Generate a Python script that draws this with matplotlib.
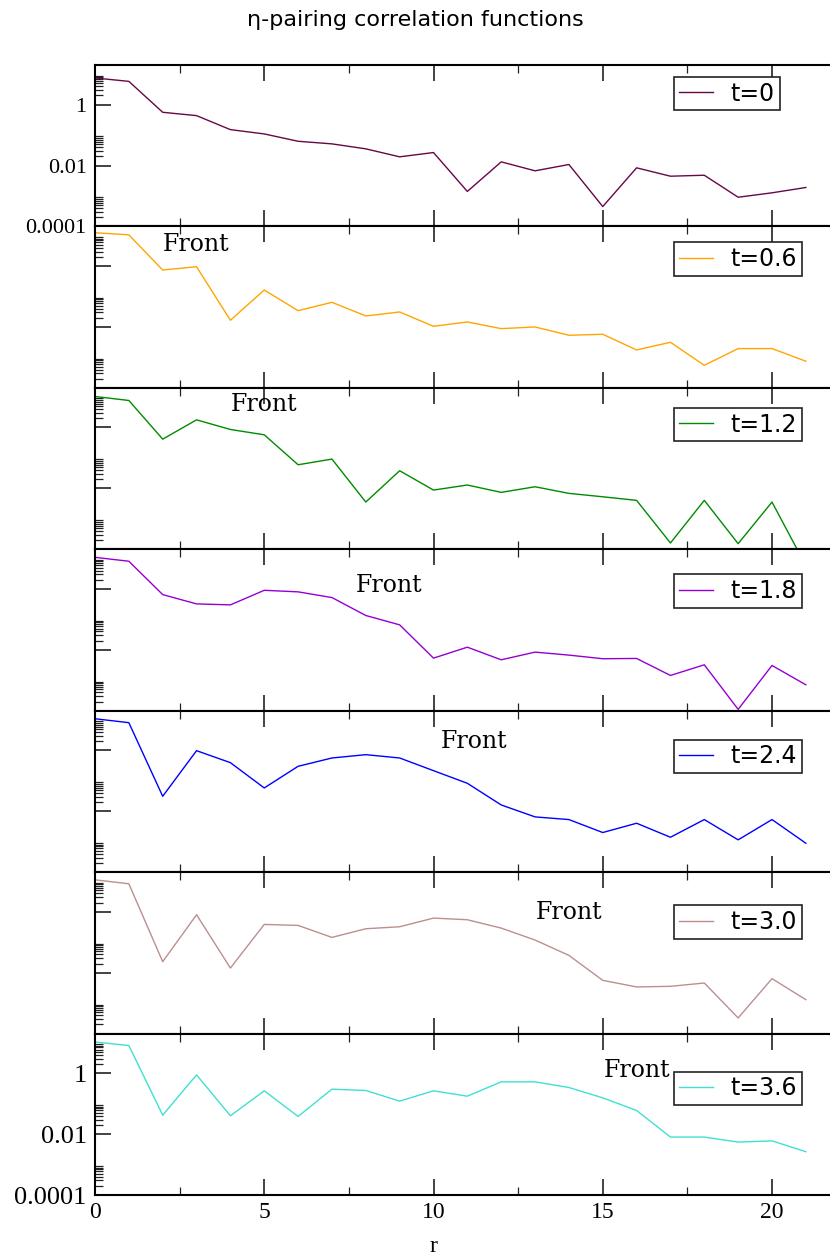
#######################################################################
# eta-pairing correlation functions C(r) for several times t
#######################################################################

import matplotlib
matplotlib.use("Agg")
import matplotlib.pyplot as plt
from matplotlib.ticker import FixedLocator, FixedFormatter, NullFormatter

#######################################################################
# Data
#######################################################################
r = list(range(22))                                   # distance r

times = ["0", "0.6", "1.2", "1.8", "2.4", "3.0", "3.6"]

corr_t00 = [7.5, 5.8, 0.56, 0.435, 0.151, 0.109, 0.0626, 0.0514, 0.0353, 0.0193, 0.0267,
            0.00141, 0.0132, 0.0067, 0.0108, 0.00045, 0.0084, 0.00446, 0.0048, 0.00091,
            0.00127, 0.0019]
corr_t06 = [12.4, 10.6, 0.74, 0.95, 0.0166, 0.163, 0.0343, 0.0644, 0.023, 0.031, 0.0105,
            0.0146, 0.0088, 0.0100, 0.00533, 0.00575, 0.00176, 0.00314, 0.00055, 0.00195,
            0.00195, 0.00075]
corr_t12 = [10.4, 7.7, 0.414, 1.78, 0.86, 0.575, 0.0597, 0.0916, 0.00356, 0.038, 0.0088,
            0.0129, 0.0074, 0.0113, 0.00686, 0.0053, 0.00404, 0.000161, 0.00404, 0.000153,
            0.00356, 0.000029]
corr_t18 = [10.9, 8.1, 0.65, 0.322, 0.299, 0.90, 0.80, 0.52, 0.134, 0.066, 0.00533,
            0.0122, 0.0047, 0.0084, 0.0067, 0.0051, 0.0052, 0.00144, 0.00322, 0.000111,
            0.00306, 0.00071]
corr_t24 = [10.9, 8.1, 0.031, 0.975, 0.394, 0.0582, 0.299, 0.561, 0.721, 0.561, 0.215,
            0.0828, 0.0161, 0.00652, 0.00533, 0.0020, 0.00404, 0.0014, 0.00533, 0.00115,
            0.00533, 0.00089]
corr_t30 = [11.2, 8.3, 0.023, 0.80, 0.0142, 0.384, 0.356, 0.144, 0.277, 0.322, 0.62,
            0.547, 0.291, 0.118, 0.037, 0.0056, 0.0034, 0.00356, 0.00458, 0.000326,
            0.00636, 0.0013]
corr_t36 = [10.6, 8.1, 0.042, 0.88, 0.040, 0.264, 0.038, 0.299, 0.270, 0.121, 0.264,
            0.176, 0.52, 0.52, 0.339, 0.155, 0.0597, 0.0080, 0.0080, 0.00547, 0.0060,
            0.00264]

# position of the "Front" mark in every panel (none for t=0)
front_r = [None, 3.0, 5.0, 8.7, 11.2, 14.0, 16.0]
front_y = [None, 5.1, 5.8, 1.32, 1.92, 0.93, 1.22]

#######################################################################
# Style
#######################################################################
colors = ["#670748", "#FFA500", "#008B00", "#9400D3", "#0000FF", "#BC8F8F", "#40E0D0"]
legend_offsets = [12, 16, 20, 25, 29, 33, 38]        # legend box offset from panel top, px

W, H = 830, 1260
left_px = 95
px_per_r = 33.85
r_max = 22
top_px = 65
panel_h = 161.43
ymin, ymax = 1e-4, 20

serif = ["Liberation Serif", "DejaVu Serif"]

#######################################################################
# Drawing
#######################################################################
series = [corr_t00, corr_t06, corr_t12, corr_t18, corr_t24, corr_t30, corr_t36]

fig = plt.figure(figsize=(W / 100, H / 100), dpi=100)
ax_w = r_max * px_per_r

for i, (t, vals) in enumerate(zip(times, series)):
    top = top_px + i * panel_h
    ax = fig.add_axes([left_px / W, 1 - (top + panel_h) / H, ax_w / W, panel_h / H])
    ax.plot(r, vals, color=colors[i], lw=1.0, label="t=" + t)
    ax.set_yscale("log")
    ax.set_xlim(0, r_max)
    ax.set_ylim(ymin, ymax)

    # major every two decades, minor 2..9 inside the lower decade
    ax.yaxis.set_major_locator(FixedLocator([1e-4, 1e-2, 1]))
    ax.yaxis.set_minor_locator(FixedLocator([k * 10.0 ** n for n in (-4, -2, 0) for k in range(2, 10)]))
    ax.yaxis.set_minor_formatter(NullFormatter())
    ax.xaxis.set_major_locator(FixedLocator([0, 5, 10, 15, 20]))
    ax.xaxis.set_minor_locator(FixedLocator([2.5, 7.5, 12.5, 17.5]))

    ax.tick_params(which="both", direction="in", top=True, right=False, color="#222222")
    ax.tick_params(which="major", length=11.5, width=1.2)
    ax.tick_params(which="minor", length=5.8, width=0.9)
    for sp in ax.spines.values():
        sp.set_linewidth(1.5)

    last = i == len(series) - 1
    if i == 0 or last:
        ax.yaxis.set_major_formatter(FixedFormatter(["0.0001", "0.01", "1"]))
        for lab in ax.get_yticklabels():
            lab.set_family(serif)
            lab.set_fontsize(19 if last else 16)
        ax.tick_params(axis="y", pad=6)
    else:
        ax.yaxis.set_major_formatter(NullFormatter())

    if last:
        for lab in ax.get_xticklabels():
            lab.set_family(serif)
            lab.set_fontsize(17)
        ax.tick_params(axis="x", pad=5)
    else:
        ax.xaxis.set_major_formatter(NullFormatter())

    if front_r[i] is not None:
        ax.text(front_r[i], front_y[i], "Front", ha="center", va="center",
                family="DejaVu Serif", fontsize=17)

    leg = ax.legend(loc="upper left",
                    bbox_to_anchor=((674 - left_px) / ax_w, 1 - legend_offsets[i] / panel_h),
                    borderaxespad=0, fancybox=False, framealpha=1, edgecolor="#222222",
                    handlelength=1.45, handletextpad=0.75, borderpad=0.2,
                    prop={"family": "DejaVu Sans", "size": 17})
    leg.get_frame().set_linewidth(1.2)

fig.text(0.5, 1 - 20 / H, "η-pairing correlation functions", ha="center", va="center",
         family="DejaVu Sans", fontsize=16)
fig.text((left_px + 10 * px_per_r) / W, 1 - 1247 / H, "r", ha="center", va="center",
         family=serif, fontsize=17)

fig.savefig("out.png", dpi=100)
